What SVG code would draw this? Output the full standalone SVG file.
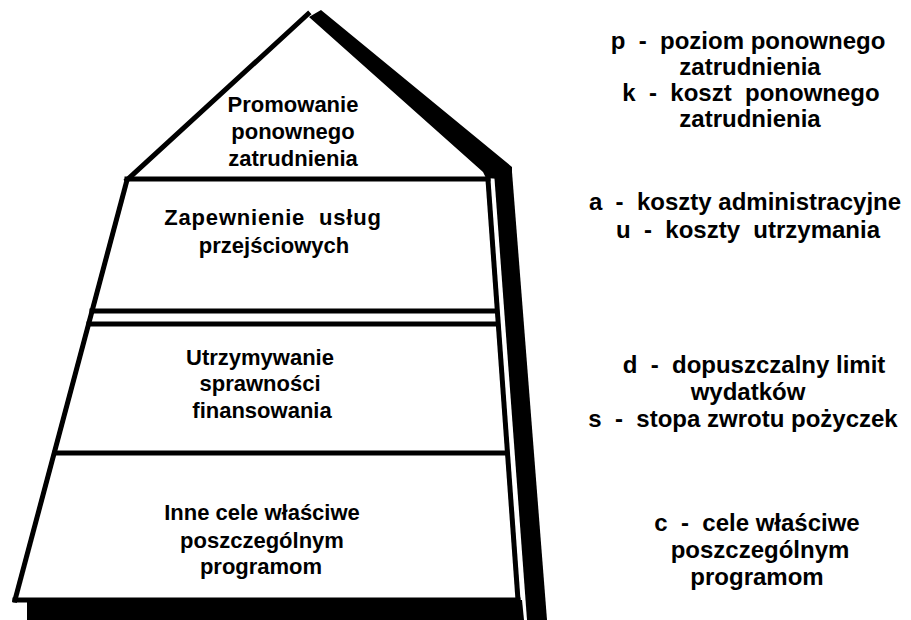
<svg xmlns="http://www.w3.org/2000/svg" width="911" height="620" viewBox="0 0 911 620">
  <style>
    .edge { stroke: #000; stroke-width: 5; fill: none; stroke-linecap: square; }
    .solid { fill: #000; stroke: none; }
    text { font-family: "Liberation Sans", Arial, sans-serif; font-weight: bold; font-size: 22px; fill: #000; text-anchor: middle; white-space: pre; }
    .legend text { font-size: 24px; }
  </style>
  <rect width="911" height="620" fill="#fff"/>

  <!-- pyramid frame: roof, sides, shadow -->
  <g id="frame">
    <!-- thick right slope of the roof -->
    <polygon class="solid" points="309,17 321,10 512,167 512,180 486,178 483,172"/>
    <!-- shadow column on the right side -->
    <polygon class="solid" points="494,172 512,172 547,620 527,620"/>
    <!-- base shadow below the body -->
    <polygon class="solid" points="27,600 522,600 524,620 27,620"/>
    <!-- left slope of the roof -->
    <line class="edge" x1="308" y1="14" x2="127" y2="180"/>
    <!-- left side of the body -->
    <line class="edge" x1="127" y1="180" x2="15" y2="600"/>
    <!-- right side of the body -->
    <line class="edge" x1="488" y1="180" x2="518" y2="600"/>
    <!-- bottom edge -->
    <line class="edge" x1="15" y1="600" x2="518" y2="600"/>
  </g>

  <!-- level separators -->
  <g id="separators">
    <line class="edge" x1="127" y1="179" x2="488" y2="179"/>
    <line class="edge" x1="92" y1="311" x2="496" y2="311"/>
    <line class="edge" x1="89" y1="324" x2="497" y2="324"/>
    <line class="edge" x1="55" y1="453" x2="506" y2="453"/>
  </g>

  <g id="level-1">
    <text x="293" y="112">Promowanie</text>
    <text x="293" y="139">ponownego</text>
    <text x="293" y="166">zatrudnienia</text>
  </g>
  <g id="level-2">
    <text x="273" y="225" letter-spacing="0.8">Zapewnienie  usług</text>
    <text x="274" y="253">przejściowych</text>
  </g>
  <g id="level-3">
    <text x="260" y="365">Utrzymywanie</text>
    <text x="260" y="391">sprawności</text>
    <text x="262" y="418">finansowania</text>
  </g>
  <g id="level-4">
    <text x="262" y="520">Inne cele właściwe</text>
    <text x="262" y="548">poszczególnym</text>
    <text x="261" y="574">programom</text>
  </g>

  <g class="legend" id="legend-1">
    <text x="748" y="49">p  -  poziom ponownego</text>
    <text x="750" y="75">zatrudnienia</text>
    <text x="751" y="101">k  -  koszt  ponownego</text>
    <text x="750" y="127">zatrudnienia</text>
  </g>
  <g class="legend" id="legend-2">
    <text x="745" y="210">a  -  koszty administracyjne</text>
    <text x="748" y="238">u  -  koszty  utrzymania</text>
  </g>
  <g class="legend" id="legend-3">
    <text x="754" y="373">d  -  dopuszczalny limit</text>
    <text x="748" y="400">wydatków</text>
    <text x="743" y="427">s  -  stopa zwrotu pożyczek</text>
  </g>
  <g class="legend" id="legend-4">
    <text x="757" y="531">c  -  cele właściwe</text>
    <text x="760" y="558">poszczególnym</text>
    <text x="757" y="585">programom</text>
  </g>
</svg>
